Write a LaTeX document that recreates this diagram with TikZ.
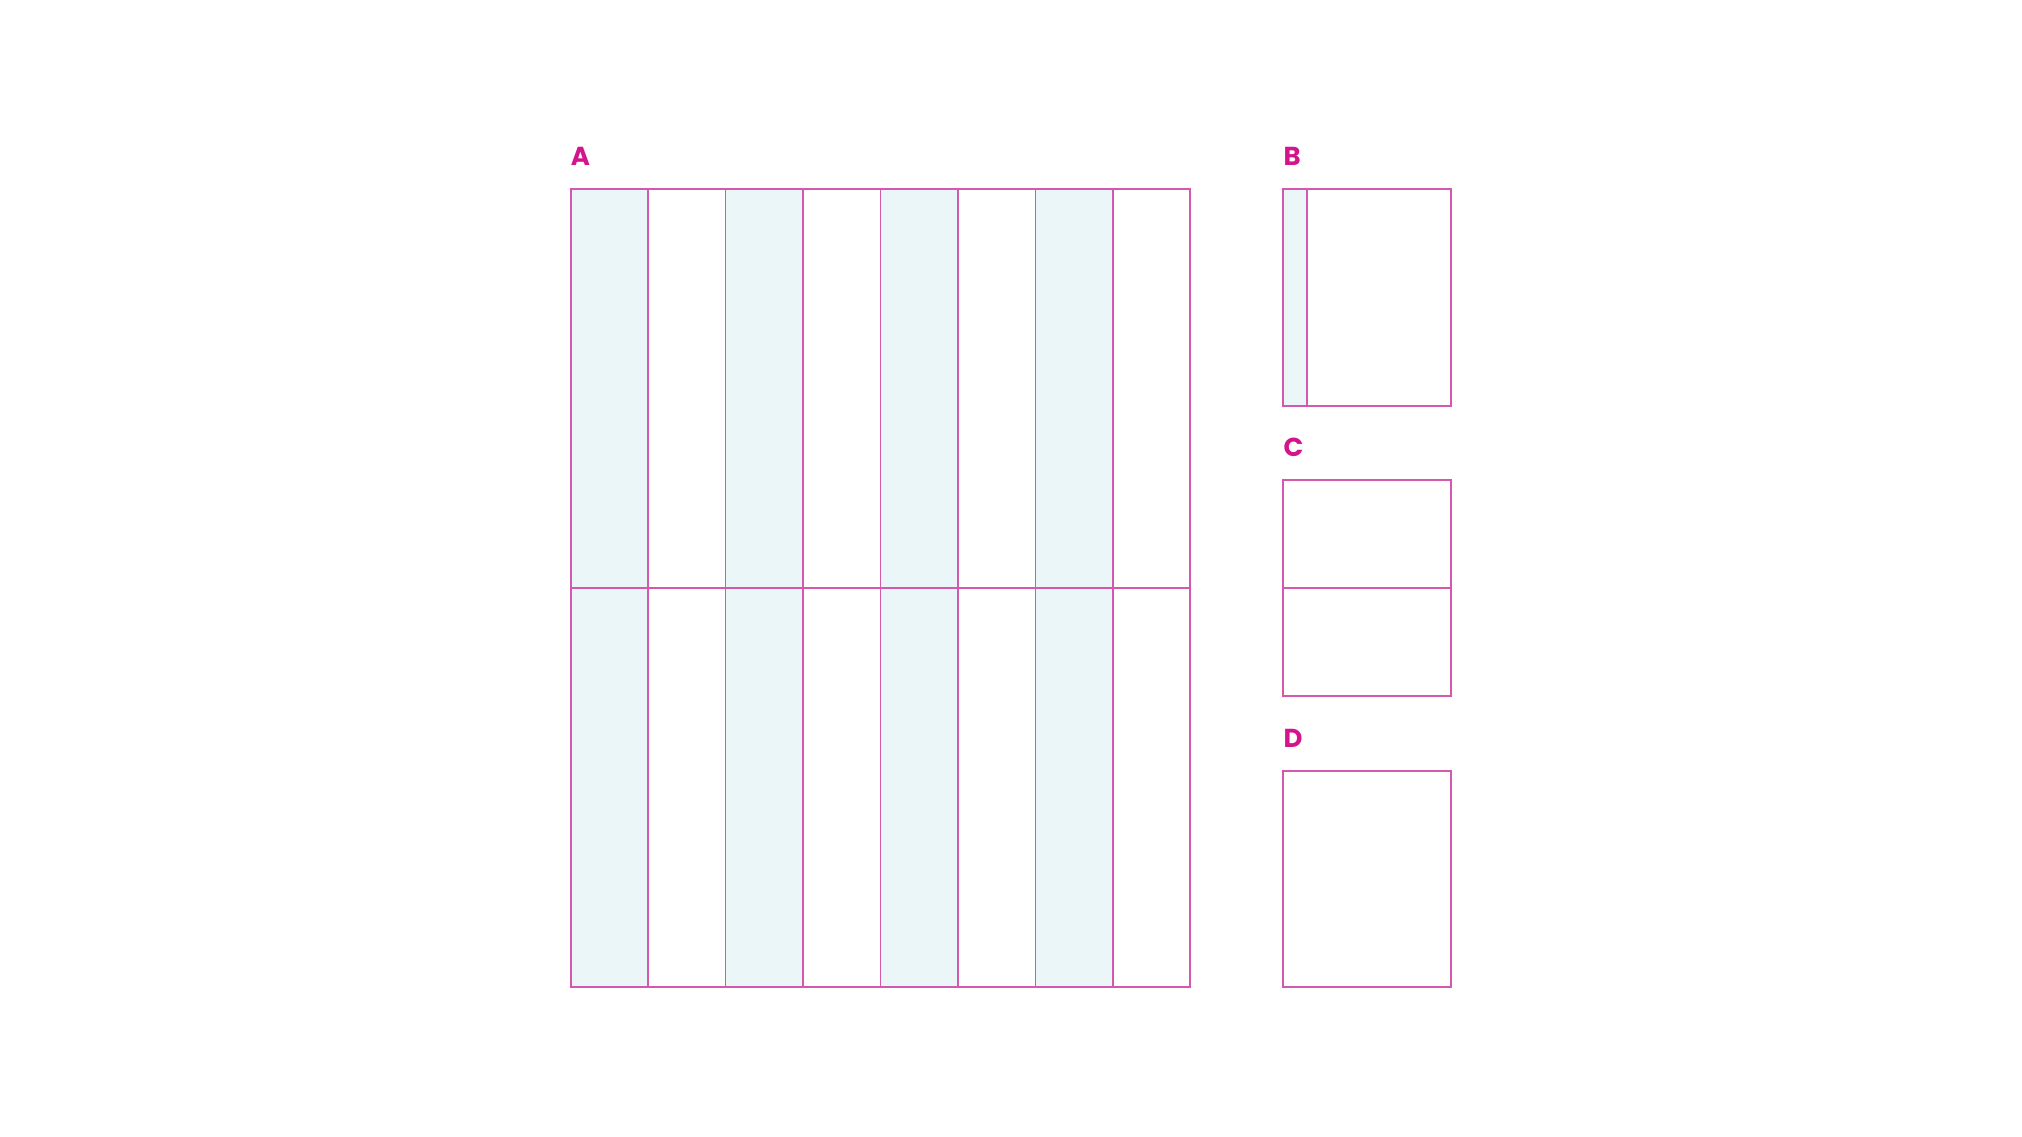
\documentclass[tikz,border=0pt]{standalone}
\usepackage{fontspec}
\setmainfont{Poppins}
\definecolor{gridline}{HTML}{D458AE}
\definecolor{labelpink}{HTML}{D4148C}
\definecolor{colfill}{HTML}{EAF6F7}
\begin{document}
\begin{tikzpicture}[x=1pt,y=-1pt,
  gl/.style={draw=gridline,line width=1.7pt},
  lab/.style={anchor=base west,inner sep=0pt,text=labelpink,font=\fontsize{26}{26}\selectfont\bfseries}]
\useasboundingbox (0,0) rectangle (2022,1137);
\fill[white] (0,0) rectangle (2022,1137);
% A
\foreach \i in {0,2,4,6}{
  \fill[colfill] ({570.7+\i*77.45},189.3) rectangle ({570.7+(\i+1)*77.45},986.7);
}
\foreach \i in {1,...,7}{
  \draw[gl] ({570.7+\i*77.45},189.3) -- ({570.7+\i*77.45},986.7);
}
\draw[gl] (570.7,588) -- (1190.3,588);
\draw[gl] (570.7,189.3) rectangle (1190.3,986.7);
\node[lab] (la) at (570.7,166) {A};
% B
\fill[colfill] (1283.3,189.3) rectangle (1307.3,405.7);
\draw[gl] (1307.3,189.3) -- (1307.3,405.7);
\draw[gl] (1283.3,189.3) rectangle (1451.3,405.7);
\node[lab] (lb) at (1283.3,166) {B};
% C
\draw[gl] (1283.3,480.3) rectangle (1451.3,696.3);
\draw[gl] (1283.3,587.7) -- (1451.3,587.7);
\node[lab] (lc) at (1283.3,456) {C};
% D
\draw[gl] (1283.3,771) rectangle (1451.3,986.7);
\node[lab] (ld) at (1283.3,747.3) {D};
\end{tikzpicture}
\end{document}
